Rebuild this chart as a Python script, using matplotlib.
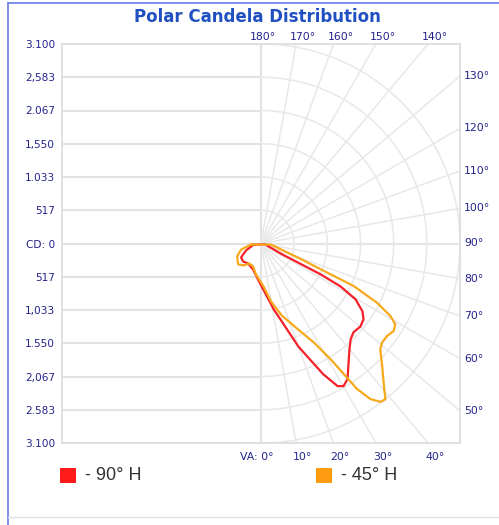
import numpy as np
import matplotlib
matplotlib.use("Agg")
import matplotlib.pyplot as plt
from matplotlib.patches import Rectangle
from matplotlib.lines import Line2D
import matplotlib.transforms as mtransforms

# ---------------- data ----------------
title = "Polar Candela Distribution"
cd_max = 3100
# bottom -> top
cd_ticks = [-3100, -2583, -2067, -1550, -1033, -517, 0, 517, 1033, 1550, 2067, 2583, 3100]
cd_labels = ["3.100", "2.583", "2,067", "1.550", "1,033", "517", "CD: 0",
             "517", "1.033", "1,550", "2.067", "2,583", "3.100"]
va_right = [130, 120, 110, 100, 90, 80, 70, 60, 50]
va_top = [180, 170, 160, 150, 140]
va_bottom = [0, 10, 20, 30, 40]

series_names = ["- 90° H", "- 45° H"]
series_colors = ["#f5202a", "#f7a81b"]
legend_colors = ["#ff1a1a", "#ff9c10"]

# vertical angle (deg, negative = opposite half-plane) and candela
va_90 = [-80, -73, -65, -58.6, -55, -45, -33, -17, -5, 11, 20, 25.5, 28.3, 30.1,
         32.6, 36.5, 40, 43.2, 46.3, 50.3, 53.6, 56.3, 59.5, 61.7, 62.7, 63, 80]
cd_90 = [125, 160, 257, 327, 378, 395, 370, 422, 558, 1043, 1705, 2250, 2517, 2562,
         2502, 2294, 2145, 2040, 1995, 2015, 1984, 1900, 1710, 1407, 1046, 350, 60]

va_45 = [-84, -73, -61.6, -47.6, -37.7, -31, -19, -9.2, 3.9, 9.8, 16, 23.3, 28.2,
         31.1, 32.6, 33.5, 35.2, 37.1, 38.7, 40.3, 44.8, 48.5, 50.8, 53.8, 56.7,
         59, 60.8, 63, 65.4, 66.3, 69, 84]
cd_45 = [155, 324, 423, 482, 431, 361, 378, 487, 682, 913, 1160, 1451, 1747,
         2100, 2443, 2712, 2959, 3085, 3100, 2968, 2678, 2480, 2434, 2434, 2474,
         2440, 2310, 2029, 1590, 1128, 636, 155]

# ---------------- figure ----------------
W, H = 499, 525
fig = plt.figure(figsize=(W / 100, H / 100), dpi=100)
fig.patch.set_facecolor("white")

def fx(px):
    return px / W

def fy(py):
    return 1 - py / H

ax_l, ax_r, ax_t, ax_b = 62, 460, 44, 443
ax = fig.add_axes([fx(ax_l), fy(ax_b), (ax_r - ax_l) / W, (ax_b - ax_t) / H])
ax.set_xlim(-cd_max, cd_max)
ax.set_ylim(-cd_max, cd_max)

label_color = "#23238c"
grid_color = "#e8e8e8"
hgrid_color = "#e2e2e2"

for s in ax.spines.values():
    s.set_color("#dcdcdc")
    s.set_linewidth(1.2)

ax.set_xticks([])
ax.set_yticks(cd_ticks)
ax.set_yticklabels(cd_labels, fontsize=7.6, color=label_color, family="DejaVu Sans")
ax.tick_params(axis="y", length=0, pad=5, labelsize=7.6, labelcolor=label_color)

step = cd_max / 6
# left half horizontal lines
for k in range(-6, 7):
    ax.plot([-cd_max, 0], [k * step, k * step], color=hgrid_color, lw=1.5, zorder=1)
ax.plot([0, cd_max], [0, 0], color=hgrid_color, lw=1.5, zorder=1)
ax.plot([0, 0], [-cd_max, cd_max], color=hgrid_color, lw=1.5, zorder=1)

# right half rings
th = np.radians(np.linspace(0, 180, 300))
for k in range(1, 7):
    r = k * step
    ax.plot(r * np.sin(th), -r * np.cos(th), color=grid_color, lw=1.1, zorder=1)

# radial lines
for a in range(10, 180, 10):
    t = np.radians(a)
    ax.plot([0, 6000 * np.sin(t)], [0, -6000 * np.cos(t)], color=grid_color,
            lw=1.1, zorder=1)

# curves
for va, cd, col in [(va_90, cd_90, series_colors[0]), (va_45, cd_45, series_colors[1])]:
    t = np.radians(np.array(va + [va[0]], dtype=float))
    c = np.array(cd + [cd[0]], dtype=float)
    ax.plot(c * np.sin(t), -c * np.cos(t), color=col, lw=1.6, zorder=3,
            solid_joinstyle="round")

# angle labels
fs = 7.8
for a in va_right:
    t = np.radians(a)
    y = -cd_max * np.cos(t) / np.sin(t)
    ax.text(1.0, y, f"{a}°", ha="left", va="center", fontsize=fs, color=label_color,
            transform=ax.get_yaxis_transform() +
            mtransforms.ScaledTranslation(4 / 100, 0, fig.dpi_scale_trans))
for a in va_top:
    t = np.radians(a)
    x = -cd_max * np.tan(t)
    off = 2 if a == 180 else 7
    ax.text(x, 1.0, f"{a}°", ha="center", va="bottom", fontsize=fs, color=label_color,
            transform=ax.get_xaxis_transform() +
            mtransforms.ScaledTranslation(off / 100, 2 / 100, fig.dpi_scale_trans))
for a in va_bottom:
    t = np.radians(a)
    x = cd_max * np.tan(t)
    if a == 0:
        txt, ha, off = "VA: 0°", "right", 13
    else:
        txt, ha, off = f"{a}°", "left", -3
    ax.text(x, 0.0, txt, ha=ha, va="top", fontsize=fs, color=label_color,
            transform=ax.get_xaxis_transform() +
            mtransforms.ScaledTranslation(off / 100, -9 / 100, fig.dpi_scale_trans))

# title
fig.text(fx(257), fy(17), title, ha="center", va="center", fontsize=12,
         fontweight="bold", color="#1f4fc0", family="DejaVu Sans")

# legend
for (x0, name, col) in [(60, series_names[0], legend_colors[0]),
                        (316, series_names[1], legend_colors[1])]:
    fig.patches.append(Rectangle((fx(x0), fy(483)), 16 / W, 15 / H,
                                 transform=fig.transFigure, facecolor=col,
                                 edgecolor="none"))
    fig.text(fx(x0 + 25), fy(476), name, ha="left", va="center", fontsize=13,
             color="#333333", family="Liberation Sans")

# outer frame
fig.add_artist(Line2D([fx(8), fx(8)], [fy(3), 0], transform=fig.transFigure,
                      color="#7383ea", lw=1.3))
fig.add_artist(Line2D([fx(8), 1], [fy(3), fy(3)], transform=fig.transFigure,
                      color="#7383ea", lw=1.3))
fig.add_artist(Line2D([fx(8), 1], [fy(517), fy(517)], transform=fig.transFigure,
                      color="#e2e2e2", lw=1.0))

fig.savefig("out.png", dpi=100, facecolor="white")
